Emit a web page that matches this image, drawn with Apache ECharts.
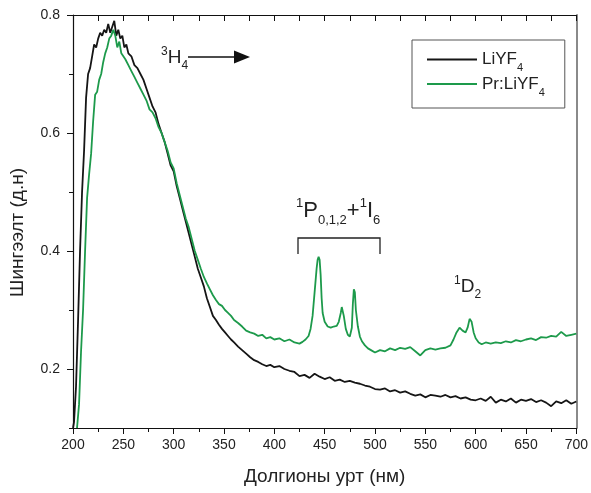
<!DOCTYPE html>
<html>
<head>
<meta charset="utf-8">
<script src="https://cdn.jsdelivr.net/npm/echarts@6/dist/echarts.min.js"></script>
<style>
html, body { margin: 0; padding: 0; background: #fff; }
#chart { width: 591px; height: 493px; }
</style>
</head>
<body>
<div id="chart"></div>
<script>
// LiYF4 spectrum
var liyfWl = [200,201,203,205,207,209,211,213,215,217,219,221,223,225,227,229,231,233,235,237,239,241,243,245,247,249,251,253,255,258,261,264,267,270,273,276,279,282,285,288,291,294,297,300,303,306,309,312,315,318,321,324,327,330,333,336,339,342,345,348,351,354,357,360,364,368,372,376,380,384,388,392,396,400,405,410,415,420,425,430,435,440,445,450,455,460,465,470,475,480,485,490,495,500,505,510,515,520,525,530,535,540,545,550,555,560,565,570,575,580,585,590,595,600,605,610,615,620,625,630,635,640,645,650,655,660,665,670,675,680,685,690,695,700];
var liyfAbs = [0.10,0.11,0.17,0.28,0.40,0.50,0.57,0.66,0.70,0.71,0.73,0.75,0.745,0.76,0.77,0.765,0.775,0.77,0.785,0.77,0.78,0.79,0.765,0.775,0.76,0.765,0.745,0.75,0.735,0.73,0.715,0.71,0.70,0.69,0.675,0.66,0.645,0.635,0.615,0.60,0.585,0.565,0.545,0.535,0.51,0.49,0.47,0.45,0.43,0.41,0.39,0.37,0.355,0.34,0.32,0.305,0.29,0.283,0.275,0.268,0.262,0.256,0.25,0.245,0.238,0.232,0.226,0.22,0.215,0.212,0.208,0.205,0.207,0.203,0.205,0.20,0.197,0.195,0.188,0.19,0.185,0.192,0.187,0.183,0.186,0.18,0.182,0.178,0.18,0.177,0.175,0.172,0.17,0.166,0.165,0.167,0.162,0.164,0.16,0.162,0.158,0.155,0.157,0.152,0.156,0.155,0.153,0.156,0.152,0.154,0.15,0.152,0.148,0.147,0.15,0.146,0.153,0.143,0.148,0.145,0.15,0.143,0.148,0.146,0.149,0.144,0.147,0.143,0.137,0.145,0.142,0.147,0.141,0.145];

// Pr:LiYF4 spectrum
var prWl = [204,206,208,210,212,214,216,218,220,222,224,226,228,230,232,234,236,238,240,242,244,246,248,250,252,255,258,261,264,267,270,273,276,279,282,285,288,291,294,297,300,303,306,309,312,315,318,321,324,327,330,333,336,339,342,345,348,351,354,357,360,364,368,372,376,380,384,388,392,396,400,405,410,415,420,425,428,431,434,436,438,440,442,443,444,445,446,447,448,450,453,456,459,462,464,466,467,468,469,471,473,475,477,478,479,480,481,483,485,487,490,493,496,500,505,510,515,520,525,530,535,540,545,550,555,560,565,570,575,578,581,584,587,590,592,594,596,598,600,603,606,610,615,620,625,630,635,640,645,650,655,660,665,670,675,680,685,690,695,700];
var prAbs = [0.10,0.14,0.23,0.30,0.40,0.49,0.53,0.565,0.62,0.665,0.67,0.69,0.70,0.72,0.735,0.745,0.76,0.765,0.775,0.765,0.745,0.755,0.735,0.73,0.725,0.715,0.705,0.695,0.685,0.675,0.665,0.655,0.64,0.635,0.625,0.61,0.60,0.585,0.57,0.55,0.54,0.515,0.495,0.475,0.455,0.44,0.42,0.40,0.385,0.37,0.356,0.345,0.335,0.325,0.317,0.31,0.307,0.30,0.295,0.29,0.283,0.278,0.272,0.265,0.262,0.26,0.256,0.258,0.252,0.254,0.25,0.252,0.247,0.25,0.245,0.243,0.246,0.25,0.256,0.268,0.29,0.33,0.37,0.385,0.39,0.385,0.36,0.32,0.295,0.28,0.272,0.27,0.272,0.273,0.28,0.295,0.305,0.305,0.29,0.268,0.258,0.255,0.27,0.31,0.335,0.33,0.30,0.272,0.255,0.247,0.24,0.235,0.232,0.228,0.232,0.23,0.235,0.232,0.236,0.234,0.237,0.23,0.223,0.232,0.235,0.233,0.235,0.236,0.24,0.25,0.262,0.27,0.265,0.262,0.27,0.285,0.28,0.262,0.252,0.245,0.242,0.245,0.243,0.245,0.244,0.247,0.245,0.249,0.247,0.25,0.252,0.249,0.254,0.253,0.256,0.255,0.263,0.256,0.258,0.26];

var seriesNames = ['LiYF4', 'Pr:LiYF4'];
var yLabelTicks = [0.2, 0.4, 0.6, 0.8];
var yMinorTicks = [0.1, 0.3, 0.5, 0.7];

function pairs(xs, ys) {
  var out = [];
  for (var i = 0; i < xs.length; i++) out.push([xs[i], ys[i]]);
  return out;
}

var textColor = '#222';
var fontFam = '"Liberation Sans", Arial, sans-serif';
var richText = {
  m: { fontSize: 19, lineHeight: 28, verticalAlign: 'middle', fill: textColor, fontFamily: fontFam },
  sup: { fontSize: 12, lineHeight: 28, verticalAlign: 'top', fill: textColor, fontFamily: fontFam, padding: [2, 0, 0, 0] },
  sub: { fontSize: 12, lineHeight: 28, verticalAlign: 'bottom', fill: textColor, fontFamily: fontFam }
};
var richBig = {
  m: { fontSize: 22, lineHeight: 32, verticalAlign: 'middle', fill: textColor, fontFamily: fontFam },
  sup: { fontSize: 13, lineHeight: 32, verticalAlign: 'top', fill: textColor, fontFamily: fontFam, padding: [2, 0, 0, 0] },
  sub: { fontSize: 13, lineHeight: 32, verticalAlign: 'bottom', fill: textColor, fontFamily: fontFam }
};

var chart = echarts.init(document.getElementById('chart'));

var option = {
  backgroundColor: '#fff',
  animation: false,
  grid: { left: 71, right: 14, top: 15, bottom: 65 },
  legend: {
    left: 412, top: 40,
    orient: 'vertical',
    data: seriesNames,
    icon: 'rect',
    itemWidth: 50, itemHeight: 2,
    itemGap: 2,
    borderColor: '#555', borderWidth: 1,
    padding: [11, 20, 10, 15],
    formatter: function (name) {
      return '{m|' + name.slice(0, -1) + '}{sub|' + name.slice(-1) + '}';
    },
    textStyle: {
      color: textColor,
      rich: {
        m: { fontSize: 17, lineHeight: 22, verticalAlign: 'middle', color: textColor, fontFamily: fontFam },
        sub: { fontSize: 11, lineHeight: 22, verticalAlign: 'bottom', color: textColor, fontFamily: fontFam, padding: [0, 0, -3, 0] }
      }
    }
  },
  xAxis: [
    {
      type: 'value', min: 200, max: 700, interval: 50,
      name: 'Долгионы урт (нм)', nameLocation: 'middle', nameGap: 39,
      nameTextStyle: { fontSize: 19, color: textColor, fontFamily: fontFam },
      axisLine: { show: true, onZero: false, lineStyle: { color: '#111', width: 1.2 } },
      axisTick: { show: true, length: 6, lineStyle: { color: '#111' } },
      minorTick: { show: true, splitNumber: 2, length: 4, lineStyle: { color: '#111' } },
      axisLabel: { fontSize: 14, color: textColor, fontFamily: fontFam, margin: 10 },
      splitLine: { show: false }
    },
    {
      type: 'value', min: 200, max: 700, interval: 25, position: 'top',
      axisLine: { show: true, onZero: false, lineStyle: { color: '#111', width: 1.2 } },
      axisTick: { show: true, inside: true, length: 6, lineStyle: { color: '#111' } },
      axisLabel: { show: false },
      splitLine: { show: false }
    }
  ],
  yAxis: [
    {
      type: 'value', min: 0.1, max: 0.8,
      name: 'Шингээлт (д.н)', nameLocation: 'middle', nameGap: 46,
      nameTextStyle: { fontSize: 19, color: textColor, fontFamily: fontFam, padding: [0, 22, 0, 0] },
      axisLine: { show: true, onZero: false, lineStyle: { color: '#111', width: 1.2 } },
      axisTick: { show: true, length: 6, customValues: yLabelTicks, lineStyle: { color: '#111' } },
      axisLabel: { fontSize: 14, color: textColor, fontFamily: fontFam, margin: 13, customValues: yLabelTicks,
        formatter: function (v) { return v.toFixed(1); } },
      splitLine: { show: false }
    },
    {
      type: 'value', min: 0.1, max: 0.8, position: 'left',
      axisLine: { show: false },
      axisTick: { show: true, length: 4, customValues: yMinorTicks, lineStyle: { color: '#111' } },
      axisLabel: { show: false, customValues: yMinorTicks },
      splitLine: { show: false }
    },
    {
      type: 'value', min: 0.1, max: 0.8, position: 'right',
      axisLine: { show: true, onZero: false, lineStyle: { color: '#8a8a8a', width: 2 } },
      axisTick: { show: false },
      axisLabel: { show: false },
      splitLine: { show: false }
    }
  ],
  series: [
    {
      name: seriesNames[0], type: 'line', showSymbol: false, symbol: 'none',
      color: '#151515',
      lineStyle: { width: 1.8, color: '#151515' },
      data: pairs(liyfWl, liyfAbs)
    },
    {
      name: seriesNames[1], type: 'line', showSymbol: false, symbol: 'none',
      color: '#1d9a4b',
      lineStyle: { width: 1.8, color: '#1d9a4b' },
      data: pairs(prWl, prAbs)
    }
  ],
  graphic: [
    {
      type: 'text', left: 161, top: 44,
      style: { text: '{sup|3}{m|H}{sub|4}', rich: richText, fill: textColor }
    },
    {
      type: 'polyline',
      shape: { points: [[188, 57], [238, 57]] },
      style: { stroke: '#111', lineWidth: 1.5, fill: null }
    },
    {
      type: 'polygon',
      shape: { points: [[234, 50.5], [250, 57], [234, 63.5]] },
      style: { fill: '#111' }
    },
    {
      type: 'text', left: 296, top: 195,
      style: { text: '{sup|1}{m|P}{sub|0,1,2}{m|+}{sup|1}{m|I}{sub|6}', rich: richBig, fill: textColor }
    },
    {
      type: 'polyline',
      shape: { points: [[298, 254], [298, 238], [380, 238], [380, 254]] },
      style: { stroke: '#222', lineWidth: 1.3, fill: null }
    },
    {
      type: 'text', left: 454, top: 273,
      style: { text: '{sup|1}{m|D}{sub|2}', rich: richText, fill: textColor }
    }
  ]
};

chart.setOption(option);
</script>
</body>
</html>
